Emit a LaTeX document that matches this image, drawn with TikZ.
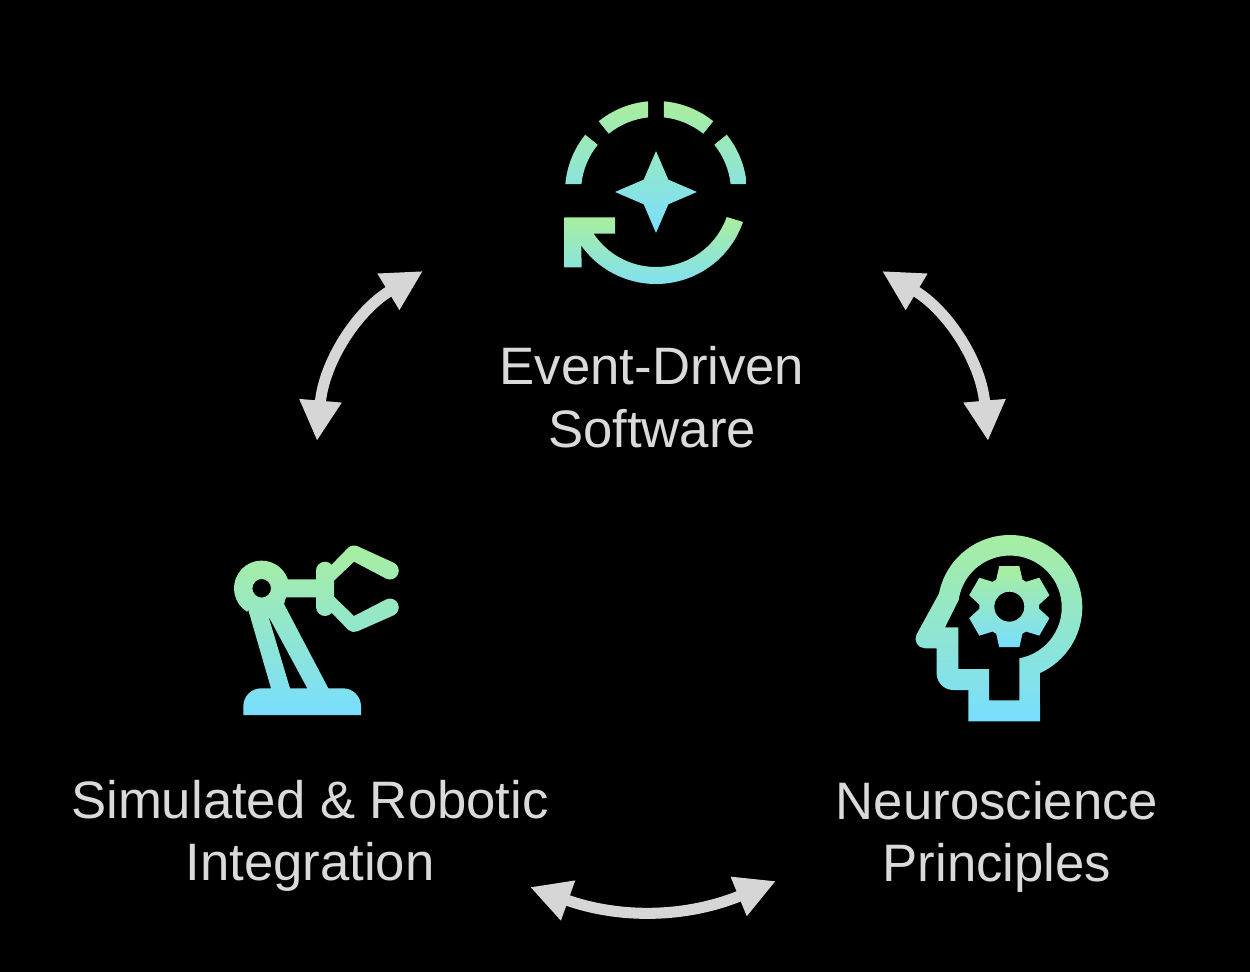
\documentclass[tikz,border=0pt]{standalone}
\usepackage{fontspec}
\setmainfont{Liberation Sans}
\usetikzlibrary{arrows.meta}
\definecolor{iconGreen}{HTML}{A9EE9E}
\definecolor{iconBlue}{HTML}{79DEFE}
\definecolor{labelGrey}{HTML}{DADADA}
\definecolor{linkGrey}{HTML}{D6D6D6}
\begin{document}
\begin{tikzpicture}[
    x=0.02cm, y=-0.02cm,
    iconFill/.style={top color=iconGreen, bottom color=iconBlue, draw=none, even odd rule},
    iconLabel/.style={text=labelGrey, align=center, font=\fontsize{30}{35.7}\selectfont, inner sep=0pt},
    linkArrow/.style={draw=linkGrey, line width=6.3pt,
        {Triangle[length=23pt, width=22.5pt]}-{Triangle[length=23pt, width=22.5pt]}},
]
\fill[black] (0,0) rectangle (1250,972);
\useasboundingbox (0,0) rectangle (1250,972);
% software icon
\begin{scope}[shift={(656,192)}]
    \shade[iconFill]
        (185:91) arc[start angle=185, end angle=219, radius=91] -- (219:75) arc[start angle=219, end angle=186, radius=75] -- cycle
        (231:91) arc[start angle=231, end angle=265, radius=91] -- (264:75) arc[start angle=264, end angle=231, radius=75] -- cycle
        (275:91) arc[start angle=275, end angle=309, radius=91] -- (309:75) arc[start angle=309, end angle=276, radius=75] -- cycle
        (321:91) arc[start angle=321, end angle=355, radius=91] -- (354:75) arc[start angle=354, end angle=321, radius=75] -- cycle
        (0,-41) -- (12.3,-12.3) -- (41,0) -- (12.3,12.3) -- (0,41) -- (-12.3,12.3) -- (-41,0) -- (-12.3,-12.3) -- cycle;
    \shade[iconFill]
        (19:92) arc[start angle=19, end angle=144.4, radius=92] -- (-74.3,75.3) -- (-91.7,75.3) -- (-91.7,25.3)
        -- (-41,25.3) -- (-41,41.6) -- (146.3:75) arc[start angle=146.3, end angle=19.5, radius=75] -- cycle;
\end{scope}
% robot icon
\shade[iconFill]
    (247,611.8) arc[start angle=122, end angle=341, radius=27.7] -- (316,579.3) -- (316,570.7)
    arc[start angle=180, end angle=318, radius=9] -- (348.2,547.7)
    arc[start angle=228.5, end angle=294.5, radius=8.8] -- (393.65,562.7)
    arc[start angle=294.5, end angle=474.5, radius=8.8] -- (354,561.7) -- (334,580.7) -- (334,596.7)
    -- (354,616) -- (386.4,599.3) arc[start angle=246, end angle=426, radius=8.8]
    -- (357.6,631.3) arc[start angle=66, end angle=131, radius=8.8] -- (331.8,612.9)
    arc[start angle=41, end angle=180, radius=9] -- (316,597.3) -- (286,597.3) -- (284,604) -- (328.3,688.3)
    -- (343,688.3) arc[start angle=270, end angle=360, radius=18] -- (361,715) -- (243.3,715) -- (243.3,706.3)
    arc[start angle=180, end angle=270, radius=18] -- (271,688.3) -- (248.3,610) -- cycle
    (261.7,588.3) circle[radius=9.3]
    (268.3,616) -- (290,688.3) -- (307.3,688.3) -- cycle;
% head icon
\shade[iconFill]
    (939,593.5) arc[start angle=191, end angle=425.5, radius=72.3] -- (1040,721.3) -- (968.3,721.3) -- (968.3,690)
    -- (953.3,690) arc[start angle=90, end angle=180, radius=16.7] -- (936.7,648.3) -- (925,648.3)
    arc[start angle=90, end angle=205, radius=9.5] -- cycle
    (945,627.3) -- (958.3,627.3) -- (958.3,669) -- (989,669) -- (989,700.3) -- (1019.3,700.3) -- (1019.3,658.3)
    arc[start angle=79.6, end angle=-172, radius=51.8] -- cycle;
\begin{scope}[shift={(1009.3,606.7)}]
    \shade[iconFill] (244:30) foreach \a in {270,330,390,450,510,570} {
            -- (\a-14:41.7) -- (\a+14:41.7) -- (\a+26:30) -- (\a+34:30)
        } -- cycle
        (0,0) circle[radius=15];
\end{scope}
% labels
\node[iconLabel] (softwareLabel) at (652,397) {Event-Driven\\Software};
\node[iconLabel] (robotLabel) at (310,836) {Simulated \& Robotic\\Integration};
\node[iconLabel] (neuroLabel) at (997,837) {Neuroscience\\Principles};
% links between the three
\coordinate (robotTop) at (317,441);
\coordinate (softwareLeft) at (423,271);
\coordinate (softwareRight) at (882,271);
\coordinate (neuroTop) at (988,441);
\coordinate (neuroLeft) at (776,881);
\coordinate (robotRight) at (530,887);
\draw[linkArrow, bend left=27] (robotTop) to (softwareLeft);
\draw[linkArrow, bend left=27] (softwareRight) to (neuroTop);
\draw[linkArrow, bend left=21] (neuroLeft) to (robotRight);
\end{tikzpicture}
\end{document}
